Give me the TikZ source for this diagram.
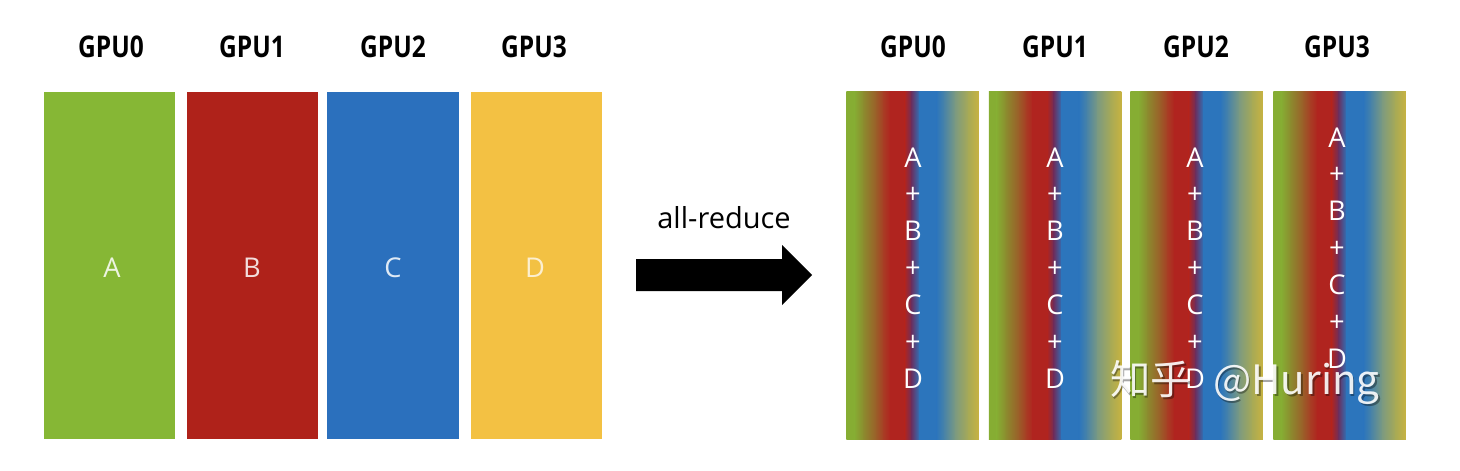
\documentclass[tikz,border=0pt]{standalone}
\usepackage{fontspec}
\setmainfont{Open Sans}
\newfontfamily\gpufont{Open Sans}[FakeStretch=0.82]
\newfontfamily\cjk{Noto Sans CJK SC}
\usetikzlibrary{calc}

\definecolor{cgreen}{HTML}{86B735}
\definecolor{cred}{HTML}{AF221A}
\definecolor{cblue}{HTML}{2B70BD}
\definecolor{cyellow}{HTML}{F3C143}
\definecolor{ggreen}{HTML}{86AD33}
\definecolor{golive}{HTML}{8C8A2E}
\definecolor{gbrown}{HTML}{9C5A28}
\definecolor{grust}{HTML}{A83C24}
\definecolor{gred}{HTML}{B0241F}
\definecolor{gdark}{HTML}{6B2F5E}
\definecolor{gblue}{HTML}{2C75BC}
\definecolor{gsteel}{HTML}{4A84A6}
\definecolor{gteal}{HTML}{7C9A80}
\definecolor{gsand}{HTML}{A8AA55}
\definecolor{gyellow}{HTML}{C9B340}

% left-to-right blend of the four colours, laid into a box node
\newcommand{\mixfill}[1]{%
  \begin{scope}
  \clip (#1.south west) rectangle (#1.north east);
  \foreach \a/\ca/\b/\cb in {0/ggreen/0.06/ggreen, 0.06/ggreen/0.13/golive,
      0.13/golive/0.23/gbrown, 0.23/gbrown/0.28/grust, 0.28/grust/0.33/gred,
      0.33/gred/0.44/gred, 0.44/gred/0.49/gdark, 0.49/gdark/0.55/gblue,
      0.55/gblue/0.68/gblue, 0.68/gblue/0.74/gsteel, 0.74/gsteel/0.82/gteal,
      0.82/gteal/0.92/gsand, 0.92/gsand/1/gyellow}
    \shade[left color=\ca, right color=\cb]
      ($(#1.south west)!\a!(#1.south east)$) rectangle ($(#1.north west)!\b!(#1.north east)+(0.8,0)$);
  \end{scope}}

\tikzset{
  gpulabel/.style={black,shape=rectangle,font=\gpufont\bfseries\fontsize{17}{20}\selectfont},
  gpubox/.style={shape=rectangle,inner sep=0pt,minimum width=75pt,minimum height=198pt},
  valtxt/.style={font=\fontsize{15.5}{18}\selectfont},
  sumtxt/.style={white,align=center,inner sep=0pt,font=\fontsize{15.5}{21}\selectfont},
}

\begin{document}
\begin{tikzpicture}[ x=0.02cm, y=-0.02cm, ]
\useasboundingbox (0,0) rectangle (1460,470);

\node[gpulabel] (gpuL0) at (111,47) {GPU0};
\node[gpulabel] (gpuL1) at (252,47) {GPU1};
\node[gpulabel] (gpuL2) at (393,47) {GPU2};
\node[gpulabel] (gpuL3) at (534,47) {GPU3};

\node[gpubox,fill=cgreen] (boxL0) at (109.5,265.5) {};
\node[gpubox,fill=cred] (boxL1) at (252.5,265.5) {};
\node[gpubox,fill=cblue] (boxL2) at (393,265.5) {};
\node[gpubox,fill=cyellow] (boxL3) at (536.5,265.5) {};

\node[valtxt,text=cgreen!15] (valA) at (112,268) {A};
\node[valtxt,text=cred!15] (valB) at (252,268) {B};
\node[valtxt,text=cblue!15] (valC) at (393,268) {C};
\node[valtxt,text=cyellow!25] (valD) at (535,268) {D};

\node[font=\fontsize{16.5}{20}\selectfont] (op) at (724,218) {all-reduce};
\fill[black] (636,259) -- (782,259) -- (782,245) -- (812,275) -- (782,305) -- (782,291) -- (636,291) -- cycle;

\node[gpulabel] (gpuR0) at (913,47) {GPU0};
\node[gpulabel] (gpuR1) at (1055,47) {GPU1};
\node[gpulabel] (gpuR2) at (1196,47) {GPU2};
\node[gpulabel] (gpuR3) at (1337,47) {GPU3};

\node[gpubox] (boxR0) at (912.5,265.5) {};
\node[gpubox] (boxR1) at (1055,265.5) {};
\node[gpubox] (boxR2) at (1196.5,265.5) {};
\node[gpubox] (boxR3) at (1339.5,265.5) {};
\mixfill{boxR0}
\mixfill{boxR1}
\mixfill{boxR2}
\mixfill{boxR3}

\node[sumtxt] (sumR0) at (913,268) {A\\+\\B\\+\\C\\+\\D};
\node[sumtxt] (sumR1) at (1055,268) {A\\+\\B\\+\\C\\+\\D};
\node[sumtxt] (sumR2) at (1195,268) {A\\+\\B\\+\\C\\+\\D};
\node[sumtxt] (sumR3) at (1337,248) {A\\+\\B\\+\\C\\+\\D};

% watermark
\node[text=black,opacity=0.35,font=\cjk\fontsize{23}{26}\selectfont] (markshadow) at (1246.5,384.5) {知乎\hspace{0.55em}@Huring};
\node[text=white,opacity=0.9,font=\cjk\fontsize{23}{26}\selectfont] (mark) at (1245,383) {知乎\hspace{0.55em}@Huring};

\end{tikzpicture}
\end{document}
